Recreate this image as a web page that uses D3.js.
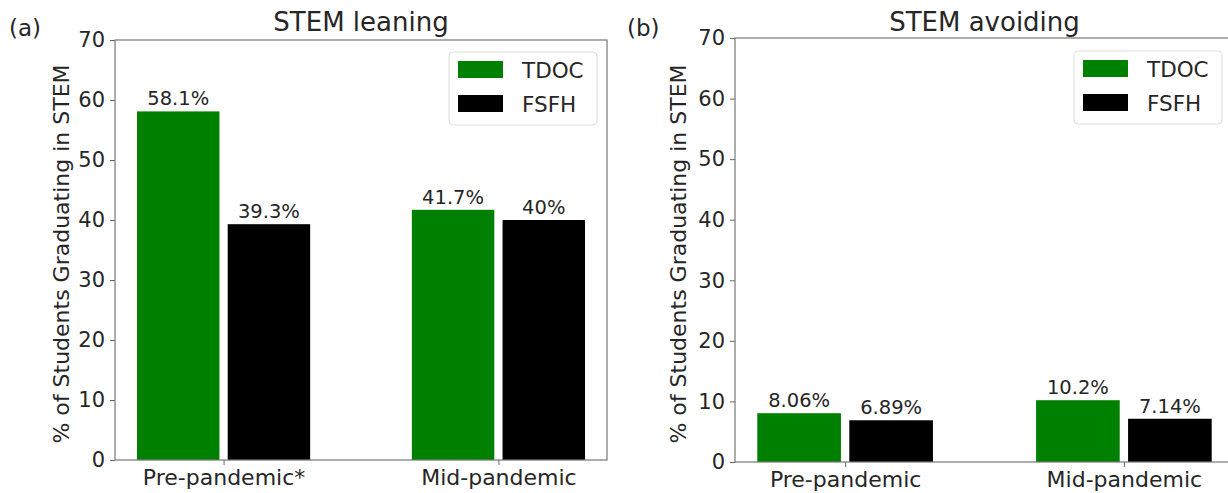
<!DOCTYPE html>
<html><head><meta charset="utf-8">
<script src="https://cdn.jsdelivr.net/npm/d3@7"></script>
<style>body{margin:0;background:#fff}svg{display:block}text{font-family:"DejaVu Sans",sans-serif;fill:#262626}</style>
</head><body>
<script>
const categories = ["Pre-pandemic", "Mid-pandemic"];
const seriesNames = ["TDOC", "FSFH"];
const seriesColors = ["#008000", "#000000"];
const leaningTDOC = [58.1, 41.7];
const leaningFSFH = [39.3, 40];
const leaningLabels = [["58.1%", "41.7%"], ["39.3%", "40%"]];
const leaningTickLabels = ["Pre-pandemic*", "Mid-pandemic"];
const avoidingTDOC = [8.06, 10.2];
const avoidingFSFH = [6.89, 7.14];
const avoidingLabels = [["8.06%", "10.2%"], ["6.89%", "7.14%"]];
const avoidingTickLabels = ["Pre-pandemic", "Mid-pandemic"];
const yTicks = [0, 10, 20, 30, 40, 50, 60, 70];

const svg = d3.select("body").append("svg").attr("width", 1228).attr("height", 493);

function panel(cfg) {
  const g = svg.append("g");
  const x = d3.scaleLinear().domain([-0.395, 1.395]).range([cfg.left, cfg.right]);
  const y = d3.scaleLinear().domain([0, 70]).range([cfg.bottom, cfg.top]);
  const series = [cfg.a, cfg.b];
  const offsets = [-0.165, 0.165];
  const bw = 0.3;
  series.forEach((vals, si) => {
    g.selectAll(null).data(vals).enter().append("rect")
      .attr("x", (d, i) => x(i + offsets[si] - bw / 2))
      .attr("width", (d, i) => x(i + offsets[si] + bw / 2) - x(i + offsets[si] - bw / 2))
      .attr("y", d => y(d))
      .attr("height", d => y(0) - y(d))
      .attr("fill", seriesColors[si]);
    g.selectAll(null).data(vals).enter().append("text")
      .attr("x", (d, i) => x(i + offsets[si]))
      .attr("y", d => y(d) - 6)
      .attr("text-anchor", "middle")
      .attr("font-size", 19.5)
      .text((d, i) => cfg.labels[si][i]);
  });
  // y axis
  const ya = d3.axisLeft(y).tickValues(yTicks).tickSize(5).tickPadding(5);
  const yg = g.append("g").attr("transform", `translate(${cfg.left},0)`).call(ya);
  yg.select(".domain").remove();
  yg.selectAll("line").attr("stroke", "#666");
  yg.selectAll("text").attr("font-size", 21).attr("fill", "#262626").style("font-family", "DejaVu Sans");
  // x axis
  const xa = d3.axisBottom(x).tickValues([0, 1]).tickFormat((d, i) => cfg.ticks[i]).tickSize(5).tickPadding(4);
  const xg = g.append("g").attr("transform", `translate(0,${cfg.bottom})`).call(xa);
  xg.select(".domain").remove();
  xg.selectAll("line").attr("stroke", "#666");
  xg.selectAll("text").attr("font-size", 22).attr("fill", "#262626").style("font-family", "DejaVu Sans");
  // spines
  g.append("rect").attr("x", cfg.left).attr("y", cfg.top)
    .attr("width", cfg.right - cfg.left).attr("height", cfg.bottom - cfg.top)
    .attr("fill", "none").attr("stroke", "#777").attr("stroke-width", 1.2);
  // title
  g.append("text").attr("x", (cfg.left + cfg.right) / 2).attr("y", 31)
    .attr("text-anchor", "middle").attr("font-size", 26).text(cfg.title);
  g.append("text").attr("x", cfg.tagX).attr("y", 36).attr("font-size", 23).text(cfg.tag);
  // y label
  g.append("text").attr("transform", `translate(${cfg.ylabX},${(cfg.top + cfg.bottom) / 2 + 4}) rotate(-90)`)
    .attr("text-anchor", "middle").attr("dominant-baseline", "central").attr("font-size", 22)
    .text("% of Students Graduating in STEM");
  // legend
  const lx = cfg.legX, ly = cfg.legY;
  g.append("rect").attr("x", lx).attr("y", ly).attr("width", 148).attr("height", 73)
    .attr("rx", 4).attr("fill", "#fff").attr("stroke", "#ddd").attr("stroke-width", 1);
  seriesNames.forEach((n, i) => {
    g.append("rect").attr("x", lx + 9).attr("y", ly + 9 + i * 34).attr("width", 45).attr("height", 17)
      .attr("fill", seriesColors[i]);
    g.append("text").attr("x", lx + 73).attr("y", ly + 26 + i * 34).attr("font-size", 21.5).text(n);
  });
}

panel({left: 115, right: 607, top: 40, bottom: 460, a: leaningTDOC, b: leaningFSFH,
  labels: leaningLabels, ticks: leaningTickLabels, title: "STEM leaning", tag: "(a)", tagX: 9,
  ylabX: 61, legX: 449, legY: 52});
panel({left: 735, right: 1234, top: 38, bottom: 462, a: avoidingTDOC, b: avoidingFSFH,
  labels: avoidingLabels, ticks: avoidingTickLabels, title: "STEM avoiding", tag: "(b)", tagX: 627,
  ylabX: 678, legX: 1074, legY: 51});
</script>
</body></html>
